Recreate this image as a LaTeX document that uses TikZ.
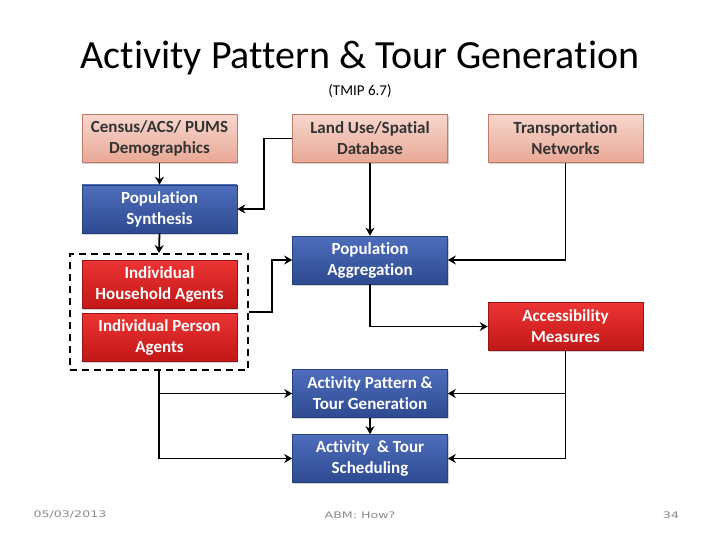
\documentclass[tikz,border=0pt]{standalone}
\usepackage{fontspec}
\setmainfont{Carlito}[Ligatures={NoCommon}]
\newfontfamily\footfont{DejaVu Sans}
\usetikzlibrary{arrows.meta,shadows}
\definecolor{salT}{HTML}{F6D6CC}
\definecolor{salB}{HTML}{E9A896}
\definecolor{salD}{HTML}{C27A68}
\definecolor{bluT}{HTML}{4E6DBB}
\definecolor{bluB}{HTML}{2D4A91}
\definecolor{bluD}{HTML}{26407E}
\definecolor{redT}{HTML}{EC3434}
\definecolor{redB}{HTML}{C21717}
\definecolor{redD}{HTML}{9A1414}
\definecolor{txtD}{HTML}{333333}
\definecolor{foot}{HTML}{8A8A8A}
\tikzset{
  basebox/.style={rectangle, minimum width=155pt, minimum height=48pt, inner sep=0pt, align=center,
    font=\fontsize{17}{21}\selectfont\bfseries, line width=0.6pt,
    drop shadow={shadow xshift=1.2pt, shadow yshift=-1.5pt, opacity=0.35, fill=gray}},
  salbox/.style={basebox, top color=salT, bottom color=salB, draw=salD, text=txtD},
  blubox/.style={basebox, top color=bluT, bottom color=bluB, draw=bluD, text=white},
  redbox/.style={basebox, top color=redT, bottom color=redB, draw=redD, text=white},
  grpbox/.style={rectangle, draw=black, line width=1.8pt, dash pattern=on 7pt off 5pt, inner sep=0pt},
  conn/.style={draw=black, line width=1.8pt, -{Stealth[length=8pt,width=9pt]}},
  foottxt/.style={font=\footfont\fontsize{9}{11}\selectfont, text=foot, inner sep=0pt, xscale=1.4, transform shape}
}
\begin{document}
\begin{tikzpicture}[x=1pt,y=-1pt]
\useasboundingbox (0,0) rectangle (720,540);
\fill[white] (0,0) rectangle (720,540);
\node[inner sep=0pt, font=\fontsize{40}{44}\selectfont] (title) at (360,58) {Activity Pattern \& Tour Generation};
\node[inner sep=0pt, font=\fontsize{15}{17}\selectfont] (sub) at (360,91) {(TMIP 6.7)};

\node[salbox] (census) at (159.5,138.5) {Census/ACS/ PUMS\\Demographics};
\node[salbox] (land) at (370,138.5) {Land Use/Spatial\\Database};
\node[salbox] (transp) at (565.5,138.5) {Transportation\\Networks};
\node[blubox] (psyn) at (159.5,209) {Population\\Synthesis};
\node[blubox] (pagg) at (370,260) {Population\\Aggregation};
\node[grpbox, minimum width=178pt, minimum height=116pt] (grp) at (159,312) {};
\node[redbox] (hh) at (159.5,284.5) {Individual\\Household Agents};
\node[redbox] (pers) at (159.5,337) {Individual Person\\Agents};
\node[redbox] (acc) at (565.5,326.5) {Accessibility\\Measures};
\node[blubox] (apg) at (370,393.5) {Activity Pattern \&\\Tour Generation};
\node[blubox] (sch) at (370,458.5) {Activity \ \& Tour\\Scheduling};

\draw[conn] (census.south) -- (psyn.north);
\draw[conn] (land.west) -- ++(-28,0) |- (psyn.east);
\draw[conn] (land.south) -- (pagg.north);
\draw[conn] (psyn.south) -- (grp.north);
\draw[conn] (grp.east) -- ++(23,0) |- (pagg.west);
\draw[conn] (transp.south) |- (pagg.east);
\draw[conn] (pagg.south) |- (acc.west);
\draw[conn] (acc.south) |- (apg.east);
\draw[conn] (acc.south) |- (sch.east);
\draw[conn] (grp.south) |- (apg.west);
\draw[conn] (grp.south) |- (sch.west);
\draw[conn] (apg.south) -- (sch.north);

\node[foottxt] (date) at (70,515) {05/03/2013};
\node[foottxt] (abm) at (360,515) {ABM: How?};
\node[foottxt] (pg) at (671,515) {34};
\end{tikzpicture}
\end{document}
